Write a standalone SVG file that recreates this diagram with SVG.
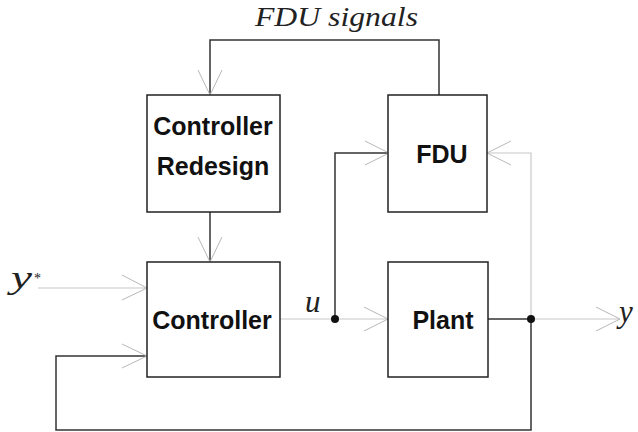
<svg xmlns="http://www.w3.org/2000/svg" width="638" height="432" viewBox="0 0 638 432">
<style>
.box{fill:#fff;stroke:#222;stroke-width:1.5}
.lbl{font-family:"Liberation Sans",Arial,sans-serif;font-weight:bold;font-size:25px;fill:#111;text-anchor:middle}
.math{font-family:"Liberation Serif","Times New Roman",serif;font-style:italic;font-size:31px;fill:#222}
.dark{fill:none;stroke:#333;stroke-width:1.5}
.light{fill:none;stroke:#c8c8c8;stroke-width:1.2}
.head{fill:none;stroke:#b8b8b8;stroke-width:1}
.dot{fill:#111}
</style>
<rect width="638" height="432" fill="#fff"/>
<g id="connectors">
  <polyline class="dark" points="439,95 439,40 210,40 210,95"/>
  <polyline class="head" points="198,70 210,95 222,70"/>
  <line class="dark" x1="210" y1="212" x2="210" y2="262"/>
  <polyline class="head" points="198,237 210,262 222,237"/>
  <line class="light" x1="38" y1="288" x2="147" y2="288"/>
  <polyline class="head" points="122,275 147,288 122,300"/>
  <polyline class="dark" points="531,319 531,430 56,430 56,356 147,356"/>
  <polyline class="head" points="122,344 147,356 122,368"/>
  <line class="light" x1="280" y1="319" x2="388" y2="319"/>
  <polyline class="head" points="364,307 388,319 364,331"/>
  <polyline class="dark" points="335,319 335,153 389,153"/>
  <polyline class="head" points="365,141 389,153 365,165"/>
  <line class="dark" x1="488" y1="319" x2="531" y2="319"/>
  <line class="light" x1="531" y1="319" x2="620" y2="319"/>
  <polyline class="head" points="596,307 620,319 596,331"/>
  <polyline class="light" points="531,319 531,153 487,153"/>
  <polyline class="head" points="511,141 487,153 511,165"/>
  <circle class="dot" cx="335" cy="319" r="4"/>
  <circle class="dot" cx="531" cy="319" r="4"/>
</g>
<g id="controller-redesign">
  <rect class="box" x="147" y="95" width="133" height="117"/>
  <text class="lbl" x="213" y="135">Controller</text>
  <text class="lbl" x="213" y="175">Redesign</text>
</g>
<g id="fdu">
  <rect class="box" x="388" y="95" width="99" height="117"/>
  <text class="lbl" x="442" y="163">FDU</text>
</g>
<g id="controller">
  <rect class="box" x="147" y="262" width="133" height="115"/>
  <text class="lbl" x="212" y="329">Controller</text>
</g>
<g id="plant">
  <rect class="box" x="388" y="262" width="100" height="115"/>
  <text class="lbl" x="443" y="329">Plant</text>
</g>
<g id="labels">
  <text class="math" x="255" y="26" style="font-size:28px" textLength="163" lengthAdjust="spacingAndGlyphs">FDU signals</text>
  <text class="math" x="11" y="288" textLength="21" lengthAdjust="spacingAndGlyphs">y</text>
  <text class="math" x="34" y="283" style="font-size:14px;font-style:normal">*</text>
  <text class="math" x="305" y="312">u</text>
  <text class="math" x="619" y="322">y</text>
</g>
</svg>
